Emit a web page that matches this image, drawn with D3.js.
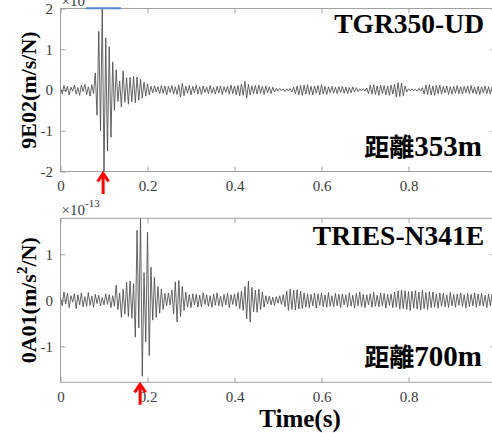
<!DOCTYPE html>
<html>
<head>
<meta charset="utf-8">
<script src="https://cdn.jsdelivr.net/npm/d3@7"></script>
<style>
  body { margin: 0; background: #fff; }
  svg { display: block; }
</style>
</head>
<body>
<svg id="chart" width="492" height="433"></svg>
<script>
// Sampling interval of both records (s)
const sampleInterval = 0.004;

// Tick values
const xTicks = [0, 0.2, 0.4, 0.6, 0.8];
const topYTicks = [-2, -1, 0, 1, 2];
const bottomYTicks = [-1, 0, 1];

// Panel labels
const topStation = "TGR350-UD";
const bottomStation = "TRIES-N341E";
const topDistance = ["距離", "353m"];
const bottomDistance = ["距離", "700m"];

// Arrival times marked with arrows (s)
const topArrival = 0.098;
const bottomArrival = 0.183;

// Record 9E02 (m/s/N), in units of 1e-13
const traceTop = [
  0.03, -0.09, 0.11, -0.05, 0.09, -0.12, 0.07, -0.03, 0.12, -0.10,
  0.06, -0.13, 0.12, -0.04, 0.14, -0.11, 0.08, -0.15, 0.13, -0.09,
  0.42, -0.62, 1.44, -1.00, 2.00, -2.00, 1.28, -1.50, 1.06, -1.16,
  0.69, -0.50, 0.50, -0.28, 0.22, -0.42, 0.47, -0.30, 0.30, -0.35,
  0.31, -0.29, 0.33, -0.31, 0.32, -0.25, 0.26, -0.20, 0.19, -0.15,
  0.15, -0.12, 0.09, -0.07, 0.10, -0.05, 0.08, -0.09, 0.11, -0.08,
  0.10, -0.12, 0.09, -0.06, 0.11, -0.10, 0.08, -0.11, 0.12, -0.17,
  0.16, -0.14, 0.10, -0.08, 0.11, -0.12, 0.09, -0.07, 0.12, -0.10,
  0.08, -0.11, 0.10, -0.06, 0.07, -0.09, 0.11, -0.08, 0.06, -0.10,
  0.09, -0.07, 0.10, -0.11, 0.08, -0.06, 0.09, -0.10, 0.12, -0.09,
  0.10, -0.12, 0.11, -0.14, 0.15, -0.13, 0.21, -0.20, 0.14, -0.12,
  0.10, -0.09, 0.11, -0.10, 0.12, -0.08, 0.09, -0.11, 0.10, -0.07,
  0.08, -0.09, 0.07, -0.05, 0.04, -0.03, 0.04, -0.02, 0.03, -0.04,
  0.03, -0.02, 0.04, -0.05, 0.07, -0.09, 0.10, -0.12, 0.11, -0.13,
  0.12, -0.10, 0.13, -0.11, 0.09, -0.12, 0.10, -0.08, 0.11, -0.12,
  0.13, -0.10, 0.09, -0.11, 0.08, -0.07, 0.09, -0.08, 0.07, -0.09,
  0.08, -0.06, 0.09, -0.08, 0.07, -0.09, 0.06, -0.07, 0.08, -0.05,
  0.06, -0.04, 0.03, -0.02, 0.03, -0.03, 0.05, -0.09, 0.12, -0.10,
  0.13, -0.11, 0.10, -0.13, 0.12, -0.09, 0.11, -0.12, 0.10, -0.13,
  0.12, -0.10, 0.14, -0.17, 0.18, -0.16, 0.17, -0.14, 0.10, -0.05,
  0.03, -0.02, 0.03, -0.02, 0.02, -0.03, 0.04, -0.03, 0.06, -0.10,
  0.12, -0.11, 0.13, -0.12, 0.10, -0.13, 0.11, -0.09, 0.12, -0.10,
  0.09, -0.07, 0.10, -0.11, 0.08, -0.10, 0.09, -0.08, 0.11, -0.09,
  0.08, -0.10, 0.09, -0.07, 0.10, -0.09, 0.11, -0.08, 0.07, -0.10,
  0.09, -0.11, 0.08, -0.07, 0.10, -0.09, 0.08, -0.10, 0.07, -0.05
];

// Record 0A01 (m/s^2/N), in units of 1e-13
const traceBottom = [
  0.05, -0.12, 0.18, -0.08, 0.15, -0.16, 0.10, -0.04, 0.14, -0.18,
  0.12, -0.10, 0.16, -0.14, 0.08, -0.13, 0.17, -0.11, 0.09, -0.15,
  0.13, -0.07, 0.11, -0.12, 0.06, -0.10, 0.14, -0.09, 0.12, -0.16,
  0.10, -0.13, 0.33, -0.20, 0.16, -0.37, 0.24, -0.30, 0.39, -0.35,
  0.42, -0.39, 0.36, -0.80, 1.52, -0.60, 1.78, -1.65, 0.60, -0.90,
  1.48, -1.20, 0.72, -0.43, 0.50, -0.37, 0.30, -0.28, 0.25, -0.20,
  0.15, -0.12, 0.16, -0.10, 0.22, -0.30, 0.40, -0.47, 0.43, -0.35,
  0.30, -0.22, 0.18, -0.15, 0.12, -0.16, 0.14, -0.10, 0.13, -0.15,
  0.11, -0.14, 0.16, -0.09, 0.12, -0.13, 0.10, -0.15, 0.14, -0.11,
  0.16, -0.12, 0.09, -0.14, 0.13, -0.10, 0.15, -0.16, 0.12, -0.09,
  0.14, -0.13, 0.17, -0.18, 0.20, -0.22, 0.30, -0.40, 0.42, -0.47,
  0.28, -0.25, 0.22, -0.26, 0.24, -0.20, 0.18, -0.15, 0.10, -0.08,
  0.09, -0.10, 0.07, -0.11, 0.08, -0.06, 0.10, -0.09, 0.12, -0.14,
  0.20, -0.22, 0.24, -0.20, 0.22, -0.21, 0.23, -0.19, 0.20, -0.18,
  0.16, -0.15, 0.14, -0.16, 0.13, -0.12, 0.15, -0.17, 0.14, -0.11,
  0.16, -0.14, 0.12, -0.15, 0.17, -0.13, 0.10, -0.14, 0.15, -0.12,
  0.13, -0.16, 0.14, -0.10, 0.12, -0.15, 0.16, -0.13, 0.11, -0.17,
  0.15, -0.12, 0.18, -0.14, 0.13, -0.16, 0.12, -0.10, 0.14, -0.15,
  0.17, -0.13, 0.11, -0.14, 0.16, -0.12, 0.15, -0.17, 0.13, -0.11,
  0.14, -0.16, 0.18, -0.15, 0.20, -0.19, 0.22, -0.18, 0.21, -0.20,
  0.19, -0.22, 0.20, -0.17, 0.21, -0.19, 0.18, -0.21, 0.22, -0.18,
  0.17, -0.20, 0.19, -0.16, 0.18, -0.15, 0.14, -0.17, 0.16, -0.13,
  0.15, -0.14, 0.12, -0.16, 0.17, -0.12, 0.13, -0.15, 0.14, -0.11,
  0.16, -0.13, 0.12, -0.17, 0.15, -0.14, 0.13, -0.12, 0.16, -0.15,
  0.14, -0.12, 0.15, -0.13, 0.11, -0.16, 0.14, -0.12, 0.13, -0.10
];

const serif = "'Liberation Serif', 'Times New Roman', serif";
const cjk = "'Noto Sans CJK TC', 'Noto Sans CJK SC', sans-serif";
const axisColor = "#a0a0a0";
const labelColor = "#3a3a3a";

const svg = d3.select("#chart");
const left = 60.5, right = 495.5;
const x = d3.scaleLinear().domain([0, 1]).range([left, right]);

const panels = [
  {
    id: "p1", top: 8.5, bottom: 171.5, domain: [-2, 2], ticks: topYTicks,
    data: traceTop, ylabel: ["9E02(m/s/N)"], station: topStation,
    distance: topDistance, arrival: topArrival, stationY: 33, distanceY: 156
  },
  {
    id: "p2", top: 218.3, bottom: 382.3, domain: [-1.78, 1.78], ticks: bottomYTicks,
    data: traceBottom, ylabel: ["0A01(m/s", "2", "/N)"], station: bottomStation,
    distance: bottomDistance, arrival: bottomArrival, stationY: 245, distanceY: 366
  }
];

const fmt = d => String(d);

function styleAxis(g) {
  g.select(".domain").remove();
  g.selectAll(".tick line").attr("stroke", axisColor);
  g.selectAll(".tick text")
    .attr("fill", labelColor)
    .style("font-family", serif)
    .style("font-size", "15px");
}

panels.forEach(p => {
  const y = d3.scaleLinear().domain(p.domain).range([p.bottom, p.top]);
  const g = svg.append("g");

  g.append("clipPath").attr("id", "clip-" + p.id)
    .append("rect")
    .attr("x", left).attr("y", p.top)
    .attr("width", right - left).attr("height", p.bottom - p.top);

  // bottom axis with labels, inward ticks
  g.append("g").attr("transform", `translate(0,${p.bottom})`)
    .call(d3.axisBottom(x).tickValues(xTicks).tickFormat(fmt)
      .tickSizeInner(-5).tickSizeOuter(0).tickPadding(9))
    .call(styleAxis);
  // top axis: ticks only
  g.append("g").attr("transform", `translate(0,${p.top})`)
    .call(d3.axisTop(x).tickValues(xTicks).tickFormat("")
      .tickSizeInner(-5).tickSizeOuter(0))
    .call(styleAxis);
  // left axis
  g.append("g").attr("transform", `translate(${left},0)`)
    .call(d3.axisLeft(y).tickValues(p.ticks).tickFormat(fmt)
      .tickSizeInner(-5).tickSizeOuter(0).tickPadding(7.5))
    .call(styleAxis);
  // right axis: ticks only
  g.append("g").attr("transform", `translate(${right},0)`)
    .call(d3.axisRight(y).tickValues(p.ticks).tickFormat("")
      .tickSizeInner(-5).tickSizeOuter(0))
    .call(styleAxis);

  // axes box
  g.append("rect")
    .attr("x", left).attr("y", p.top)
    .attr("width", right - left).attr("height", p.bottom - p.top)
    .attr("fill", "none").attr("stroke", axisColor).attr("stroke-width", 1);

  // waveform
  const line = d3.line()
    .x((d, i) => x(i * sampleInterval))
    .y(d => y(d));
  g.append("path")
    .datum(p.data)
    .attr("clip-path", `url(#clip-${p.id})`)
    .attr("d", line)
    .attr("fill", "none")
    .attr("stroke", "#4a4a4a")
    .attr("stroke-width", 0.85)
    .attr("stroke-linejoin", "round");

  // exponent label
  const ex = g.append("text")
    .attr("x", left + 1).attr("y", p.top - 3)
    .attr("fill", labelColor)
    .style("font-family", serif).style("font-size", "15px");
  ex.append("tspan").text("×10");
  ex.append("tspan").attr("dy", -8).style("font-size", "11px").text("-13");

  // y-axis title
  const cy = (p.top + p.bottom) / 2;
  const yl = g.append("text")
    .attr("transform", `translate(36,${cy}) rotate(-90)`)
    .attr("text-anchor", "middle")
    .attr("fill", "#000")
    .style("font-family", serif).style("font-size", "22px").style("font-weight", "bold");
  yl.append("tspan").text(p.ylabel[0]);
  if (p.ylabel.length > 1) {
    yl.append("tspan").attr("dy", -9).style("font-size", "15px").text(p.ylabel[1]);
    yl.append("tspan").attr("dy", 9).text(p.ylabel[2]);
  }

  // station name
  g.append("text")
    .attr("x", 484).attr("y", p.stationY)
    .attr("text-anchor", "end")
    .attr("fill", "#000")
    .style("font-family", serif).style("font-size", "27.5px").style("font-weight", "bold")
    .text(p.station);

  // epicentral distance
  const dt = g.append("text")
    .attr("x", 482).attr("y", p.distanceY)
    .attr("text-anchor", "end")
    .attr("fill", "#000")
    .style("font-weight", "bold");
  dt.append("tspan").style("font-family", cjk).style("font-size", "25px").text(p.distance[0]);
  dt.append("tspan").style("font-family", serif).style("font-size", "29px").text(p.distance[1]);

  // arrival arrow
  const ax = x(p.arrival), tip = p.bottom + 0.5;
  g.append("path")
    .attr("d", `M${ax},${tip + 22}V${tip + 2}M${ax - 5.5},${tip + 9.5}L${ax},${tip + 1.5}L${ax + 5.5},${tip + 9.5}`)
    .attr("fill", "none")
    .attr("stroke", "#ff0000")
    .attr("stroke-width", 3);
});

// highlighted segment on the upper box edge
svg.append("line")
  .attr("x1", x(0.058)).attr("x2", x(0.139))
  .attr("y1", 8.3).attr("y2", 8.3)
  .attr("stroke", "#5a8bd6").attr("stroke-width", 2);

// shared x-axis title
svg.append("text")
  .attr("x", 300).attr("y", 427)
  .attr("text-anchor", "middle")
  .attr("fill", "#000")
  .style("font-family", serif).style("font-size", "25px").style("font-weight", "bold")
  .text("Time(s)");
</script>
</body>
</html>
